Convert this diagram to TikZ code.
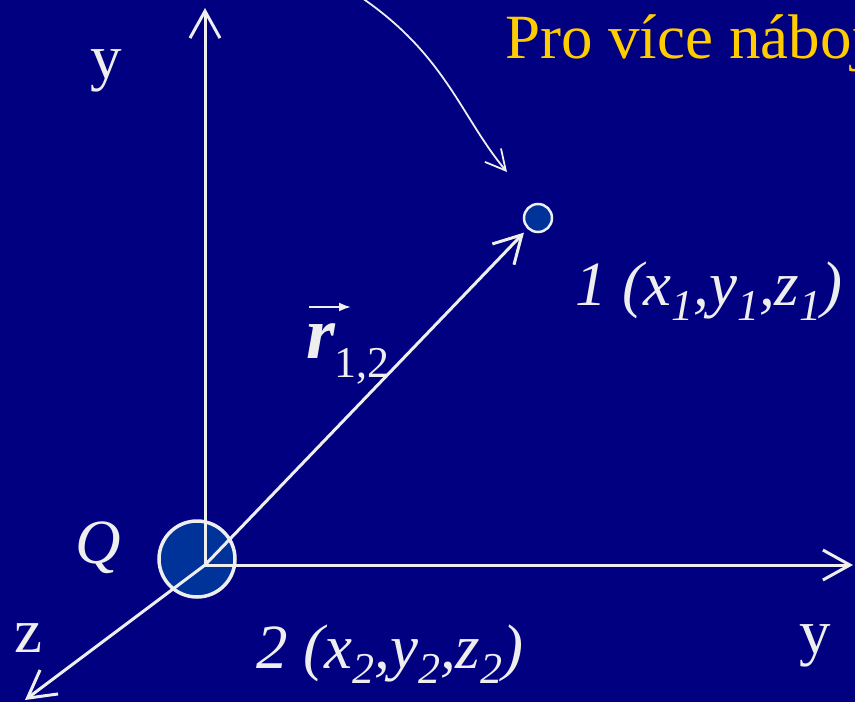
\documentclass[tikz,border=0pt]{standalone}
\usepackage{fontspec}
\setmainfont{Liberation Serif}
\usetikzlibrary{arrows.meta}
\definecolor{bg}{RGB}{0,0,128}
\definecolor{ink}{RGB}{238,238,238}
\definecolor{gold}{RGB}{255,204,0}
\definecolor{qfill}{RGB}{0,51,153}
\newcommand\mysub[1]{\raisebox{-15pt}{\fontsize{44}{44}\selectfont #1}}
\tikzset{
  axis/.style={draw=ink, line width=3pt, -{Straight Barb[length=27pt,width=30pt,line width=3pt]}},
  thinarrow/.style={draw=ink, line width=1.8pt, -{Straight Barb[length=20pt,width=21pt,line width=1.8pt]}},
  vecarrow/.style={draw=ink, line width=2pt, -{Latex[length=12pt,width=9pt]}},
  charge/.style={circle, draw=ink, fill=qfill, inner sep=0pt},
  lbl/.style={text=ink, font=\fontsize{63}{70}\selectfont, inner sep=0pt, anchor=base west},
}
\begin{document}
\begin{tikzpicture}[x=1pt,y=-1pt]
\useasboundingbox (0,0) rectangle (855,702);
\fill[bg] (0,0) rectangle (855,702);
\begin{scope}
\clip (0,0) rectangle (855,702);
% charges
\node[charge, minimum size=76pt, line width=3.5pt] (Qc) at (197,559) {};
\node[charge, minimum size=28pt, line width=2.5pt] (p1) at (538,218) {};
% axes
\coordinate (O) at (205,565);
\coordinate (ytop) at (205,8);
\coordinate (yright) at (853,565);
\coordinate (zend) at (25,700);
\draw[axis] (O) -- (ytop);
\draw[axis] (O) -- (yright);
\draw[axis] (O) -- (zend);
\draw[axis, shorten >=5pt] (O) -- (p1);
% curved arrow
\coordinate (cstart) at (360,-3.4);
\coordinate (ctip) at (507,172);
\draw[thinarrow] (cstart) .. controls (446,55) and (461,117) .. (ctip);
% texts
\node[lbl, text=gold] (title) at (505,58) {Pro více náboj};
\node[lbl] (ylab) at (90,78) {y};
\node[lbl] (Qlab) at (75,563) {\itshape Q};
\node[lbl] (zlab) at (14,652) {z};
\node[lbl] (y2lab) at (799,653) {y};
\node[lbl] (p2lab) at (256,668) {\itshape 2 (x\mysub{2},y\mysub{2},z\mysub{2})};
\node[lbl] (p1lab) at (575,305) {\itshape 1 (x\mysub{1},y\mysub{1},z\mysub{1})};
\node[lbl] (rlab) at (306,358) {{\fontsize{74}{74}\selectfont\bfseries\itshape r}\raisebox{-19pt}{\fontsize{44}{44}\selectfont 1,2}};
% vector arrow over r
\coordinate (va) at ([shift={(3,-51)}]rlab.base west);
\coordinate (vb) at ([shift={(45,-51)}]rlab.base west);
\draw[vecarrow] (va) -- (vb);
\end{scope}
\end{tikzpicture}
\end{document}
